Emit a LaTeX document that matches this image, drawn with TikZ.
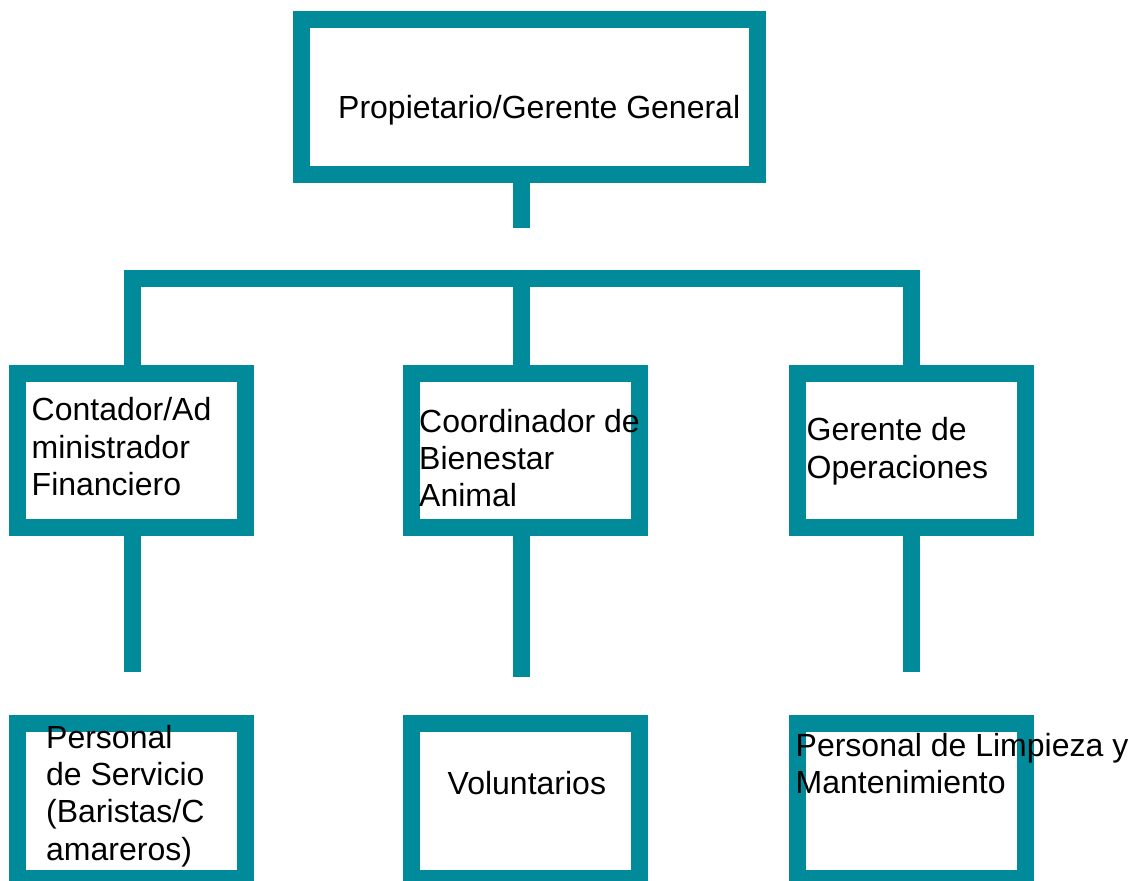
\documentclass[tikz,border=0pt]{standalone}
\usepackage{fontspec}
\setmainfont{Liberation Sans}
\definecolor{orgteal}{RGB}{0,138,154}

\begin{document}
\begin{tikzpicture}[x=1pt,y=-1pt,line cap=butt,
    box/.style={rectangle,draw=orgteal,fill=white,line width=17pt,inner sep=0pt,minimum width=228pt,minimum height=154.3pt},
    link/.style={draw=orgteal,line width=17pt,line join=miter},
    lbl/.style={anchor=base west,inner sep=0pt,align=left,font=\fontsize{32}{37.3}\selectfont}]
    \useasboundingbox (0,0) rectangle (1133,881);

    % boxes
    \node[box,minimum width=455.7pt,minimum height=155pt] (p) at (529.3,97) {};
    \node[box] (a1) at (131.8,450.3) {};
    \node[box] (a2) at (525,450.3) {};
    \node[box] (a3) at (911.8,450.3) {};
    \node[box] (b1) at (131.8,801) {};
    \node[box] (b2) at (525,801) {};
    \node[box] (b3) at (911.8,801) {};

    % loose ends of the stems
    \coordinate (s0) at (521.8,227.7);
    \coordinate (j) at (521.8,278.5);
    \coordinate (e1) at (132,671.7);
    \coordinate (e2) at (521.8,676.7);
    \coordinate (e3) at (911.8,671.7);

    \draw[link] (p.south -| s0) -- (s0);
    \draw[link] (a1.north -| e1) |- (j) -| (a3.north);
    \draw[link] (j) -- (a2.north -| j);
    \draw[link] (a1.south -| e1) -- (e1);
    \draw[link] (a2.south -| e2) -- (e2);
    \draw[link] (a3.south) -- (e3);

    % texts (base = last line)
    \node[lbl] (tp) at (338,118.3) {Propietario/Gerente General};
    \node[lbl] (ta1) at (31.5,495.3) {Contador/Ad\\ministrador\\Financiero};
    \node[lbl] (ta2) at (419,506.7) {Coordinador de\\Bienestar\\Animal};
    \node[lbl] (ta3) at (806.5,478) {Gerente de\\Operaciones};
    \node[lbl] (tb1) at (46,860) {Personal\\de Servicio\\(Baristas/C\\amareros)};
    \node[lbl] (tb2) at (447.5,794) {Voluntarios};
    \node[lbl] (tb3) at (795.5,793.3) {Personal de Limpieza y\\Mantenimiento};
\end{tikzpicture}
\end{document}
